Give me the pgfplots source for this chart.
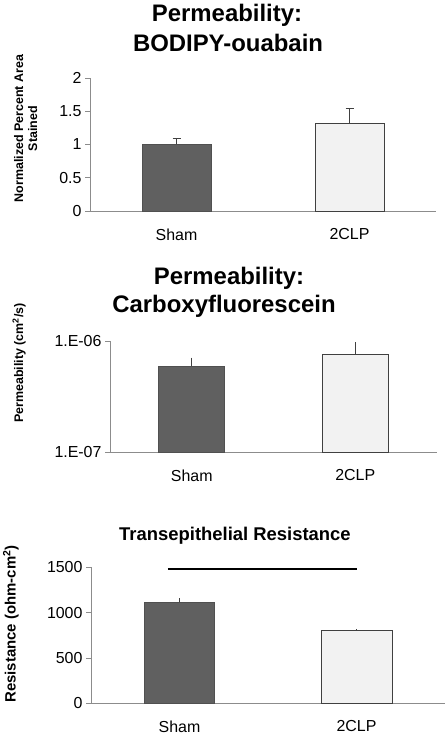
\documentclass[border=0pt]{standalone}
\usepackage{pgfplots}
\pgfplotsset{compat=1.18}
\usepackage{fontspec}
\setmainfont{Liberation Sans}
\definecolor{darkbar}{HTML}{606060}
\definecolor{darkedge}{HTML}{505050}
\definecolor{lightbar}{HTML}{F2F2F2}
\definecolor{lightedge}{HTML}{404040}
\definecolor{axisgray}{HTML}{8C8C8C}

\pgfplotsset{
 mybase/.style={
   scale only axis,
   anchor=south west,
   axis x line*=bottom, axis y line*=left,
   axis line style={axisgray, line width=0.9bp},
   xmin=-0.5, xmax=1.5,
   xtick={0,1}, xticklabels={Sham,2CLP},
   x tick style={draw=none},
   minor xtick={-0.5,0.5,1.5},
   minor x tick style={axisgray, line width=0.9bp},
   minor tick length=5bp,
   y tick style={axisgray, line width=0.9bp},
   major tick length=5bp,
   tick align=outside,
   ticklabel style={font=\fontsize{16}{19}\selectfont},
   xticklabel style={yshift=-9bp},
   ybar, bar shift=0pt,
   every axis y label/.style={rotate=90, anchor=center, align=center, font=\bfseries\fontsize{12.5}{14}\selectfont},
   clip=false,
 },
}

\begin{document}
\begin{tikzpicture}[x=1bp,y=1bp]
\useasboundingbox (0,0) rectangle (446,738);

% Titles
\node[anchor=base, font=\bfseries\fontsize{24}{28}\selectfont] at (227,716) {Permeability:};
\node[anchor=base, font=\bfseries\fontsize{24}{28}\selectfont] at (228,686) {BODIPY-ouabain};
\node[anchor=base, font=\bfseries\fontsize{24}{28}\selectfont] at (229,453) {Permeability:};
\node[anchor=base, font=\bfseries\fontsize{24}{28}\selectfont] at (224,425) {Carboxyfluorescein};
\node[anchor=base, font=\bfseries\fontsize{18.5}{22}\selectfont] at (235,197) {Transepithelial Resistance};

% Panel 1
\begin{axis}[mybase,
  at={(90bp,527bp)}, width=346bp, height=133bp,
  ymin=0, ymax=2, ytick={0,0.5,1,1.5,2}, yticklabels={0,0.5,1,1.5,2},
  ylabel={Normalized Percent Area\\Stained},
  ylabel style={at={(axis description cs:-0.186,0.62)}},
]
\addplot[fill=darkbar, draw=darkedge, line width=0.8bp, bar width=69bp,
  error bars/.cd, y dir=plus, y explicit,
  error bar style={line width=1.2bp, color=black!75},
  error mark options={rotate=90, mark size=4bp, line width=1.2bp, color=black!75}]
  coordinates {(0,1.00) +- (0,0.09)};
\addplot[fill=lightbar, draw=lightedge, line width=0.8bp, bar width=69bp,
  error bars/.cd, y dir=plus, y explicit,
  error bar style={line width=1.2bp, color=black!75},
  error mark options={rotate=90, mark size=4bp, line width=1.2bp, color=black!75}]
  coordinates {(1,1.32) +- (0,0.22)};
\end{axis}

% Panel 2
\begin{axis}[mybase,
  at={(110bp,286bp)}, width=327bp, height=111bp,
  ymode=log, ymin=1e-7, ymax=1e-6, log origin=infty,
  ytick={1e-7,1e-6}, yticklabels={1.E-07,1.E-06}, yminorticks=false,
  ylabel={Permeability (cm\textsuperscript{2}/s)},
  ylabel style={at={(axis description cs:-0.278,0.80)}},
]
\addplot[fill=darkbar, draw=darkedge, line width=0.8bp, bar width=66bp,
  error bars/.cd, y dir=plus, y explicit,
  error bar style={line width=1.2bp, color=black!75}, error mark=none]
  coordinates {(0,5.9e-7) +- (0,1.2e-7)};
\addplot[fill=lightbar, draw=lightedge, line width=0.8bp, bar width=66bp,
  error bars/.cd, y dir=plus, y explicit,
  error bar style={line width=1.2bp, color=black!75}, error mark=none]
  coordinates {(1,7.6e-7) +- (0,2.1e-7)};
\end{axis}

% Panel 3
\begin{axis}[mybase,
  at={(91bp,34.7bp)}, width=354bp, height=136bp,
  ymin=0, ymax=1500, ytick={0,500,1000,1500}, yticklabels={0,500,1000,1500},
  ylabel={Resistance (ohm-cm\textsuperscript{2})},
  ylabel style={at={(axis description cs:-0.226,0.583)}, font=\bfseries\fontsize{15}{18}\selectfont},
]
\addplot[fill=darkbar, draw=darkedge, line width=0.8bp, bar width=70bp,
  error bars/.cd, y dir=plus, y explicit,
  error bar style={line width=1.2bp, color=black!75}, error mark=none]
  coordinates {(0,1114) +- (0,44)};
\addplot[fill=lightbar, draw=lightedge, line width=0.8bp, bar width=71bp,
  error bars/.cd, y dir=plus, y explicit,
  error bar style={line width=1.2bp, color=black!75}, error mark=none]
  coordinates {(1,805) +- (0,14)};
\addplot[sharp plot, black, line width=1.4bp, forget plot] coordinates {(-0.065,1480) (1.0,1480)};
\end{axis}
\end{tikzpicture}
\end{document}
